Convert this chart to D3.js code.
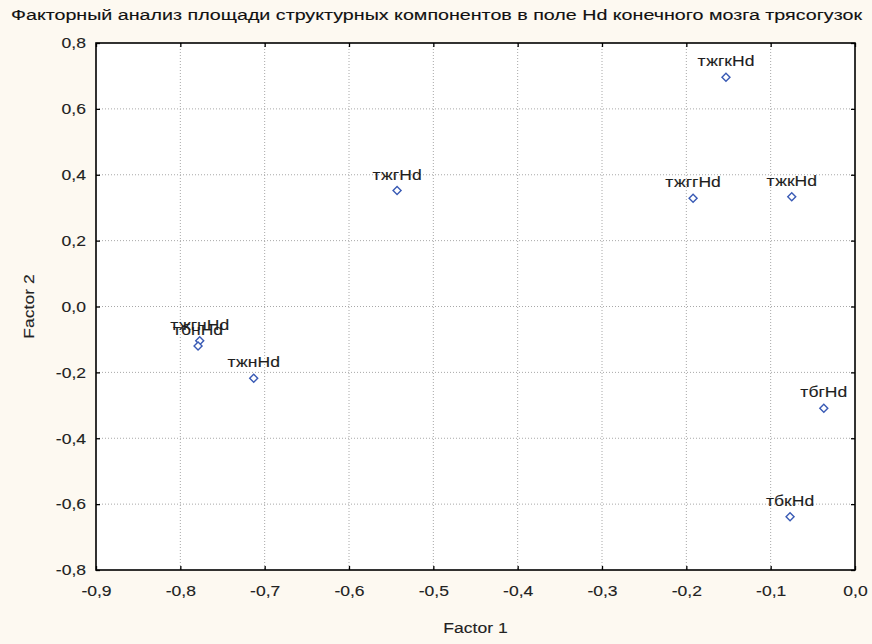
<!DOCTYPE html>
<html>
<head>
<meta charset="utf-8">
<script src="https://cdn.jsdelivr.net/npm/d3@7"></script>
<style>
  html, body { margin: 0; padding: 0; background: #fdf9f1; }
  svg { display: block; font-family: "Liberation Sans", Arial, sans-serif; }
  .lbl { stroke: currentColor; stroke-width: 0.12px; }
</style>
</head>
<body>
<svg id="chart"></svg>
<script>
// point names and factor loadings
var names = ['тжгкHd', 'тжггHd', 'тжкHd', 'тжгHd', 'тжгнHd', 'тбнHd', 'тжнHd', 'тбгHd', 'тбкHd'];
var factor1 = [-0.153, -0.192, -0.075, -0.543, -0.777, -0.779, -0.713, -0.037, -0.077];
var factor2 = [0.696, 0.329, 0.333, 0.352, -0.104, -0.120, -0.218, -0.309, -0.638];

var xTicks = [-0.9, -0.8, -0.7, -0.6, -0.5, -0.4, -0.3, -0.2, -0.1, 0.0];
var yTicks = [-0.8, -0.6, -0.4, -0.2, 0.0, 0.2, 0.4, 0.6, 0.8];

var title = 'Факторный анализ площади структурных компонентов в поле Hd конечного мозга трясогузок';

var width = 872, height = 644;
var margin = { top: 43, right: 17, bottom: 74, left: 96 };
var stretch = 1.17; // text in the picture looks horizontally widened
var fs = 15;

var svg = d3.select('#chart').attr('width', width).attr('height', height);

var x = d3.scaleLinear().domain([-0.9, 0]).range([margin.left, width - margin.right]);
var y = d3.scaleLinear().domain([-0.8, 0.8]).range([height - margin.bottom, margin.top]);

var loc = d3.formatLocale({ decimal: ',', thousands: ' ', grouping: [3], currency: ['', ''], minus: '-' });
var fmt = loc.format('.1f');

// plot background
svg.append('rect')
  .attr('x', x.range()[0]).attr('y', y.range()[1])
  .attr('width', x.range()[1] - x.range()[0])
  .attr('height', y.range()[0] - y.range()[1])
  .attr('fill', '#fff');

// grid
var grid = svg.append('g').attr('stroke', '#a8a8a8').attr('stroke-dasharray', '1,2');
grid.selectAll('.gx').data(xTicks.slice(1, -1)).enter().append('line')
  .attr('x1', function(d) { return x(d); }).attr('x2', function(d) { return x(d); })
  .attr('y1', y.range()[1]).attr('y2', y.range()[0]);
grid.selectAll('.gy').data(yTicks.slice(1, -1)).enter().append('line')
  .attr('y1', function(d) { return y(d); }).attr('y2', function(d) { return y(d); })
  .attr('x1', x.range()[0]).attr('x2', x.range()[1]);

// axes, ticks pointing inward
var xAxis = d3.axisBottom(x).tickValues(xTicks).tickFormat(fmt).tickSizeInner(-4).tickSizeOuter(0).tickPadding(15);
var yAxis = d3.axisLeft(y).tickValues(yTicks).tickFormat(fmt).tickSizeInner(-4).tickSizeOuter(0).tickPadding(14);

var gx = svg.append('g').attr('transform', 'translate(0,' + y.range()[0] + ')').call(xAxis);
var gy = svg.append('g').attr('transform', 'translate(' + x.range()[0] + ',0)').call(yAxis);
svg.append('g').attr('transform', 'translate(0,' + y.range()[1] + ')')
  .call(d3.axisTop(x).tickValues(xTicks).tickFormat('').tickSizeInner(-4).tickSizeOuter(0));
svg.append('g').attr('transform', 'translate(' + x.range()[1] + ',0)')
  .call(d3.axisRight(y).tickValues(yTicks).tickFormat('').tickSizeInner(-4).tickSizeOuter(0));

svg.selectAll('.domain').remove();
svg.selectAll('.tick line').attr('stroke', '#000').attr('stroke-width', 1.3);

gx.selectAll('text')
  .attr('class', 'lbl')
  .attr('font-size', fs).attr('fill', '#222').style('color', '#222')
  .attr('transform', 'scale(' + stretch + ',1)');
gy.selectAll('text')
  .attr('class', 'lbl')
  .attr('font-size', fs).attr('fill', '#222').style('color', '#222')
  .attr('x', -10 / stretch)
  .attr('transform', 'scale(' + stretch + ',1)');

// frame
svg.append('rect')
  .attr('x', x.range()[0]).attr('y', y.range()[1])
  .attr('width', x.range()[1] - x.range()[0])
  .attr('height', y.range()[0] - y.range()[1])
  .attr('fill', 'none').attr('stroke', '#000').attr('stroke-width', 1.6);

// points
var pts = names.map(function(n, i) { return { name: n, f1: factor1[i], f2: factor2[i] }; });

svg.append('g').selectAll('path').data(pts).enter().append('path')
  .attr('d', d3.symbol().type(d3.symbolSquare).size(32))
  .attr('transform', function(d) { return 'translate(' + x(d.f1) + ',' + y(d.f2) + ') rotate(45)'; })
  .attr('fill', '#fff').attr('stroke', '#3a5bb5').attr('stroke-width', 1.4);

svg.append('g').selectAll('text').data(pts).enter().append('text')
  .attr('class', 'lbl')
  .attr('transform', function(d) { return 'translate(' + x(d.f1) + ',' + (y(d.f2) - 11) + ') scale(' + stretch + ',1)'; })
  .attr('text-anchor', 'middle')
  .attr('font-size', fs).attr('fill', '#1e1e1e').style('color', '#1e1e1e')
  .text(function(d) { return d.name; });

// titles
svg.append('text')
  .attr('class', 'lbl')
  .attr('x', 11).attr('y', 20)
  .attr('font-size', 14).attr('fill', '#111').style('color', '#111')
  .attr('textLength', 851).attr('lengthAdjust', 'spacingAndGlyphs')
  .text(title);

svg.append('text')
  .attr('class', 'lbl')
  .attr('transform', 'translate(' + ((x.range()[0] + x.range()[1]) / 2) + ',633) scale(' + stretch + ',1)')
  .attr('text-anchor', 'middle').attr('font-size', fs).attr('fill', '#222').style('color', '#222')
  .text('Factor 1');

svg.append('text')
  .attr('class', 'lbl')
  .attr('transform', 'translate(34,' + ((y.range()[0] + y.range()[1]) / 2) + ') rotate(-90) scale(' + stretch + ',1)')
  .attr('text-anchor', 'middle').attr('font-size', fs).attr('fill', '#222').style('color', '#222')
  .text('Factor 2');
</script>
</body>
</html>
